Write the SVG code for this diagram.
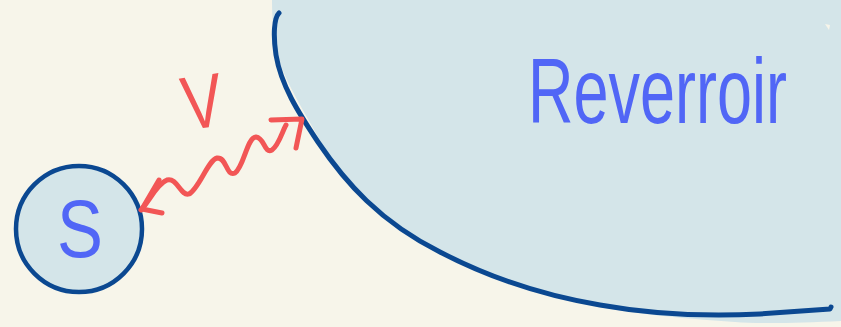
<svg xmlns="http://www.w3.org/2000/svg" width="841" height="327" viewBox="0 0 841 327">
<style>
.outline{fill:none;stroke:#0b4891;stroke-width:5;stroke-linecap:round;stroke-linejoin:round}
.red{fill:none;stroke:#f25656;stroke-width:5;stroke-linecap:round;stroke-linejoin:round}
.lbl{font-family:"Liberation Sans",Arial,sans-serif;fill:#5166f6}
</style>
<rect width="841" height="327" fill="#f7f5ea"/>
<g id="reservoir">
<path d="M272,0 L841,0 L841,321 C800,323 760,324 735,322 C680,318 620,314 560,298 C490,280 430,250 385,214 C350,186 328,156 313,128 C300,104 283,78 276,50 C273,30 272,15 272,0 Z" fill="#d4e5e9"/>
<path d="M825,24 L830,25 L829,30 Z" fill="#f7f5ea"/>
<path class="outline" d="M279,13 C274,18 273,35 276,55 C281,85 298,112 318,142 C345,182 380,222 440,252 C490,278 540,295 600,305 C650,314 700,317 760,314 C790,312 815,310 830,309 L831,307"/>
<text class="lbl" font-size="92" transform="translate(528,123) scale(0.685,1)">Reverroir</text>
</g>
<g id="source">
<circle cx="79" cy="229" r="63" fill="#d4e5e9" stroke="#0b4891" stroke-width="4.5"/>
<text class="lbl" font-size="82" text-anchor="middle" transform="translate(80,257) scale(0.84,1)">S</text>
</g>
<g id="connectors">
<path class="red" d="M141,210 C150,200 157,184 167,180 C177,177 181,197 189,194 C199,189 208,160 217,158 C227,157 226,177 235,173 C244,167 247,137 256,137 C265,138 264,154 272,150 C279,145 282,132 286,125"/>
<path class="red" d="M159,180 L142,209 L162,213"/>
<path class="red" d="M271,120 L302,119 L296,148"/>
<text font-family="Liberation Sans,Arial,sans-serif" font-size="76" fill="#f25656" text-anchor="middle" transform="rotate(-8 202 100) translate(202,128) scale(0.8,1)">V</text>
</g>
</svg>
